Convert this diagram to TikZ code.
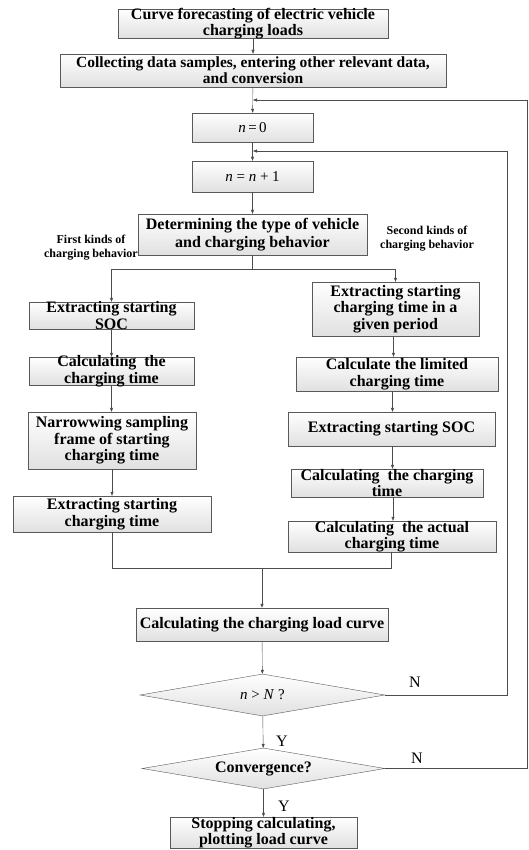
\documentclass[tikz,border=0pt]{standalone}
\usepackage{fontspec}
\setmainfont{Liberation Serif}
\usetikzlibrary{shapes.geometric,arrows.meta,shadows}

\tikzset{
  flowbox/.style={draw=black!65, top color=white, bottom color=black!12,
    drop shadow={shadow xshift=1pt, shadow yshift=-1pt, fill=black!30},
    align=center, inner xsep=2pt, inner ysep=-2pt,
    font=\bfseries\fontsize{16}{16.5}\selectfont},
  choice/.style={diamond, aspect=5.8, draw=black!65, top color=white,
    bottom color=black!12, inner sep=0pt},
  arr/.style={draw=black!70, -{Triangle[length=4pt,width=3pt]}},
  link/.style={draw=black!70},
  yn/.style={font=\fontsize{16}{16}\selectfont},
  side/.style={align=center, font=\bfseries\fontsize{12}{14}\selectfont}
}

\begin{document}
\begin{tikzpicture}[x=1pt, y=-1pt]
    \useasboundingbox (0,0) rectangle (528,850);

    % Top of the flow
    \node[flowbox, minimum width=270pt, minimum height=29pt] (curve) at (253,23.5)
      {Curve forecasting of electric vehicle\\charging loads};
    \node[flowbox, minimum width=386pt, minimum height=33pt,
      font=\bfseries\fontsize{15.5}{16}\selectfont] (collect) at (253,70.5)
      {Collecting data samples, entering other relevant data,\\and conversion};
    \node[flowbox, minimum width=121pt, minimum height=29pt,
      font=\mdseries\fontsize{15}{15}\selectfont] (nzero) at (252.5,127.5)
      {\textit{n}\,=\,0};
    \node[flowbox, minimum width=121pt, minimum height=31pt,
      font=\mdseries\fontsize{15}{15}\selectfont] (ninc) at (252.5,176.5)
      {\textit{n} = \textit{n} + 1};
    \node[flowbox, minimum width=229pt, minimum height=41pt,
      font=\bfseries\fontsize{16}{18}\selectfont] (vtype) at (252.5,234.5)
      {Determining the type of vehicle\\and charging behavior};
    \node[side] (firstlbl) at (91,248) {First kinds of\\charging behavior};
    \node[side] (secondlbl) at (427,239) {Second kinds of\\charging behavior};

    % First kinds of charging behavior
    \node[flowbox, minimum width=165pt, minimum height=27pt] (socL) at (111.5,315.5)
      {Extracting starting\\SOC};
    \node[flowbox, minimum width=165pt, minimum height=28pt] (calcL) at (111.5,371)
      {Calculating\ \ the\\charging time};
    \node[flowbox, minimum width=168pt, minimum height=57pt] (narrowL) at (112,440.5)
      {Narrowwing sampling\\frame of starting\\charging time};
    \node[flowbox, minimum width=198pt, minimum height=36pt] (startL) at (112,514)
      {Extracting starting\\charging time};

    % Second kinds of charging behavior
    \node[flowbox, minimum width=167pt, minimum height=54pt] (startR) at (395.5,309)
      {Extracting starting\\charging time in a\\given period};
    \node[flowbox, minimum width=202pt, minimum height=34pt] (limitR) at (397,374)
      {Calculate the limited\\charging time};
    \node[flowbox, minimum width=207pt, minimum height=34pt] (socR) at (391.5,429)
      {Extracting starting SOC};
    \node[flowbox, minimum width=192pt, minimum height=28pt] (calcR) at (387,483)
      {Calculating\ \ the charging\\time};
    \node[flowbox, minimum width=208pt, minimum height=31pt] (actualR) at (392,536.5)
      {Calculating\ \ the actual\\charging time};

    % Load curve and checks
    \node[flowbox, minimum width=252pt, minimum height=33pt] (loadcurve) at (262,624.5)
      {Calculating the charging load curve};
    \node[choice, minimum width=245pt, minimum height=42pt,
      font=\fontsize{15}{15}\selectfont] (ncheck) at (262.5,695)
      {\textit{n} > \textit{N} ?};
    \node[choice, minimum width=243pt, minimum height=41pt,
      font=\bfseries\fontsize{16}{16}\selectfont] (conv) at (263.5,768.5)
      {Convergence?};
    \node[flowbox, minimum width=187pt, minimum height=31pt] (stop) at (263.5,832.5)
      {Stopping calculating,\\plotting load curve};

    % Labels on the branches
    \node[yn] (nA) at (415,682) {N};
    \node[yn] (yA) at (282,741) {Y};
    \node[yn] (nB) at (417,758) {N};
    \node[yn] (yB) at (284,806) {Y};

    % Main line
    \draw[arr] (curve) -- (collect);
    \draw[arr] (collect) -- (nzero);
    \draw[arr] (nzero) -- (ninc);
    \draw[arr] (ninc) -- (vtype);

    % Split into the two kinds
    \coordinate (split) at (252.5,269);
    \draw[link] (vtype) -- (split);
    \draw[arr] (split) -| (socL);
    \draw[arr] (split) -| (startR);

    % Left column
    \draw[arr] (socL.south) -- (socL.south |- calcL.north);
    \draw[arr] (calcL.south) -- (calcL.south |- narrowL.north);
    \draw[arr] (narrowL.south) -- (narrowL.south |- startL.north);

    % Right column
    \draw[arr] ([xshift=-2pt]startR.south) -- ([xshift=-2pt]startR.south |- limitR.north);
    \draw[arr] ([xshift=1pt]socR.north |- limitR.south) -- ([xshift=1pt]socR.north);
    \draw[arr] ([xshift=1pt]socR.south) -- ([xshift=1pt]socR.south |- calcR.north);
    \draw[arr] ([xshift=6pt]calcR.south) -- ([xshift=6pt]calcR.south |- actualR.north);

    % Merge
    \coordinate (merge) at (262,568);
    \draw[link] (startL) |- (merge);
    \draw[link] ([xshift=-1pt]actualR.south) |- (merge);
    \draw[arr, thick] (merge) -- (loadcurve);
    \draw[arr] (loadcurve) -- (ncheck);
    \draw[arr] (ncheck) -- (conv);
    \draw[arr] (conv) -- (stop);

    % Loops back
    \coordinate (loopinc) at (253,151);
    \coordinate (loopzero) at (253,100);
    \draw[arr] (ncheck.east) -- ++(122,0) |- (loopinc);
    \draw[arr] (conv.east) -- ++(142,0) |- (loopzero);
\end{tikzpicture}
\end{document}
